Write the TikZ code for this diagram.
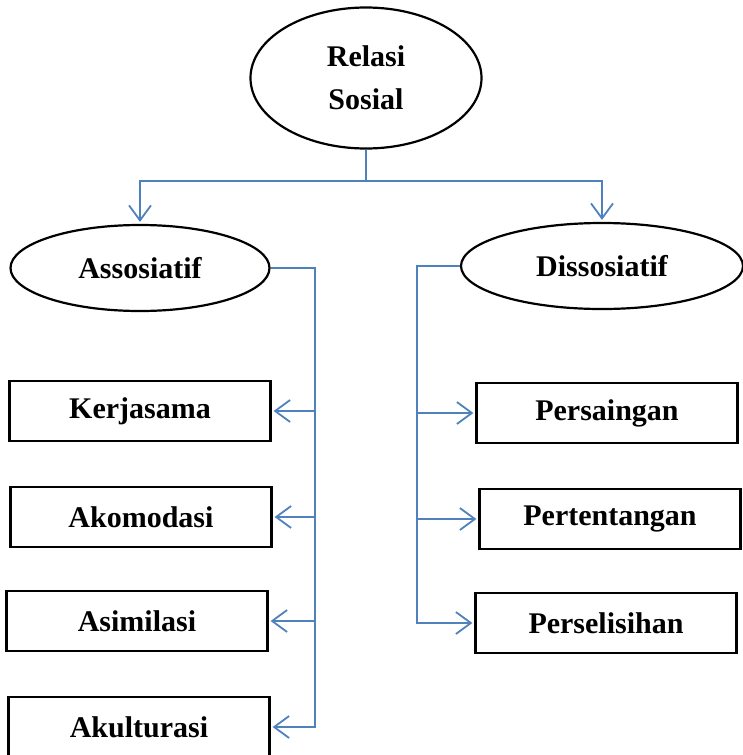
\documentclass[tikz,border=0pt]{standalone}
\usepackage{fontspec}
\setmainfont{Liberation Serif}
\usepackage{xcolor}
\usetikzlibrary{arrows.meta,shapes.geometric}
\definecolor{linkblue}{HTML}{4F81BD}

\begin{document}
\begin{tikzpicture}[
  x=1pt,y=-1pt,
  font=\fontsize{30}{43}\selectfont\bfseries,
  oval/.style={ellipse,draw=black,line width=2.2pt,inner sep=0pt,align=center},
  box/.style={draw=black,line width=2.2pt,inner sep=0pt,minimum width=261pt,minimum height=60pt},
  link/.style={draw=linkblue,line width=1.8pt},
  arr/.style={link,-{Straight Barb[length=15pt,width=22pt,line width=1.8pt]},shorten >=2pt}]
\useasboundingbox (0,0) rectangle (742,755);
% top and second level
\node[oval,minimum width=231pt,minimum height=141pt] (rel) at (366,78) {Relasi\\Sosial};
\node[oval,minimum width=259pt,minimum height=86pt] (aso) at (140,268) {Assosiatif};
\node[oval,minimum width=282pt,minimum height=86pt] (dis) at (602,266) {Dissosiatif};
% forms
\node[box] (kerja) at (140,411) {Kerjasama};
\node[box] (akom) at (141,517) {Akomodasi};
\node[box] (asim) at (137,621) {Asimilasi};
\node[box] (akul) at (139,727) {Akulturasi};
\node[box] (saing) at (607,413) {Persaingan};
\node[box] (tentang) at (610,519) {Pertentangan};
\node[box] (selisih) at (606,623) {Perselisihan};
\coordinate (fork) at (366,181);
\coordinate (spineL) at (315,265);
\coordinate (spineR) at (417,265);
% connectors
\draw[link] (rel.south) -- (fork);
\draw[arr] (fork) -| (aso.north);
\draw[arr] (fork) -| (dis.north);
\draw[arr] (aso.east) -- (aso.east -| spineL) -- (akul.east -| spineL) -- (akul.east);
\foreach \n in {kerja,akom,asim}
  \draw[arr] (\n.east -| spineL) -- (\n.east);
\draw[arr] (dis.west) -- (dis.west -| spineR) -- (selisih.west -| spineR) -- (selisih.west);
\foreach \n in {saing,tentang}
  \draw[arr] (\n.west -| spineR) -- (\n.west);
\end{tikzpicture}
\end{document}
